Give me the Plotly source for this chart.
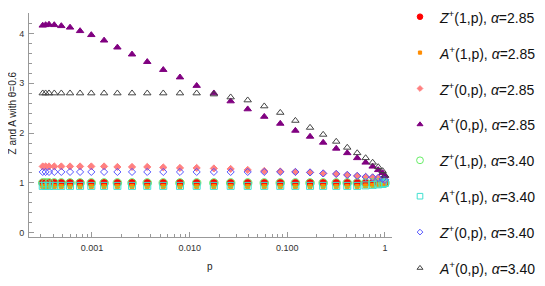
import plotly.graph_objects as go

p = [0.000313, 0.000335, 0.000363, 0.000411, 0.000485, 0.000596, 0.000755, 0.000984,
     0.00133, 0.00182, 0.00257, 0.00368, 0.00537, 0.00796, 0.0118, 0.0177, 0.0263,
     0.0393, 0.0581, 0.0847, 0.121, 0.171, 0.233, 0.317, 0.411, 0.520, 0.634, 0.748,
     0.853, 0.946, 1.0]

Z1_285 = [1.00] * 26 + [1.00, 1.00, 1.01, 1.01, 1.01]
A1_285 = [0.93] * 26 + [0.94, 0.95, 0.96, 0.98, 1.00]
Z0_285 = [1.33, 1.33, 1.33, 1.33, 1.33, 1.33, 1.33, 1.33, 1.33, 1.32, 1.32, 1.32, 1.31,
          1.30, 1.30, 1.29, 1.28, 1.26, 1.24, 1.23, 1.22, 1.21, 1.19, 1.18, 1.16, 1.14,
          1.12, 1.11, 1.10, 1.08, 1.06]
A0_285 = [4.16, 4.17, 4.18, 4.17, 4.15, 4.12, 4.05, 3.97, 3.86, 3.72, 3.58, 3.43, 3.27,
          3.12, 2.95, 2.80, 2.64, 2.48, 2.33, 2.19, 2.05, 1.93, 1.81, 1.69, 1.60, 1.50,
          1.41, 1.33, 1.26, 1.20, 1.14]
Z1_340 = [1.00] * 31
A1_340 = [0.94] * 26 + [0.95, 0.96, 0.97, 0.98, 1.00]
Z0_340 = [1.22] * 21 + [1.21, 1.19, 1.18, 1.16, 1.14, 1.12, 1.11, 1.10, 1.08, 1.06]
A0_340 = [2.80] * 15 + [2.78, 2.72, 2.66, 2.54, 2.41, 2.25, 2.11, 1.97, 1.83, 1.71,
                        1.60, 1.50, 1.41, 1.32, 1.24, 1.15]

names = [
    "<i>Z</i><sup>+</sup>(1,p), <i>α</i>=2.85",
    "<i>A</i><sup>+</sup>(1,p), <i>α</i>=2.85",
    "<i>Z</i><sup>+</sup>(0,p), <i>α</i>=2.85",
    "<i>A</i><sup>+</sup>(0,p), <i>α</i>=2.85",
    "<i>Z</i><sup>+</sup>(1,p), <i>α</i>=3.40",
    "<i>A</i><sup>+</sup>(1,p), <i>α</i>=3.40",
    "<i>Z</i><sup>+</sup>(0,p), <i>α</i>=3.40",
    "<i>A</i><sup>+</sup>(0,p), <i>α</i>=3.40",
]
series = [Z1_285, A1_285, Z0_285, A0_285, Z1_340, A1_340, Z0_340, A0_340]
symbols = ["circle", "square", "diamond", "triangle-up",
           "circle-open", "square-open", "diamond-open", "triangle-up-open"]
colors = ["#FF0000", "#FF8C00", "#FF8080", "#800080",
          "#66EE66", "#40E0D0", "#5555FF", "#444444"]
sizes = [7, 4, 5.5, 6.5, 8.5, 7, 5.5, 6.5]

# page body has an 8px margin: the figure is laid out in page pixels minus OFF
OFF = 8
W, H = 545 - OFF, 286 - OFF
ML = 29 - OFF
PLOT_R, PLOT_T, PLOT_B = 392 - OFF, 13 - OFF, 237 - OFF
LEG_L = 400 - OFF
LEG_Y0, LEG_DY = 16.7 - OFF, 35.9

fig = go.Figure()
for nm, ys, sym, col, sz in zip(names, series, symbols, colors, sizes):
    fig.add_trace(go.Scatter(x=p, y=ys, mode="markers", name=nm, showlegend=False,
                             marker=dict(symbol=sym, color=col, size=sz,
                                         line=dict(width=1, color=col))))

# manual legend on its own axes (pixel-like coordinates)
for i, (nm, sym, col, sz) in enumerate(zip(names, symbols, colors, sizes)):
    yy = LEG_Y0 + LEG_DY * i
    fig.add_trace(go.Scatter(x=[420 - OFF], y=[yy], mode="markers", xaxis="x2",
                             yaxis="y2", showlegend=False, hoverinfo="skip",
                             marker=dict(symbol=sym, color=col, size=sz * 0.8,
                                         line=dict(width=1, color=col))))
    fig.add_annotation(text=nm, x=437 - OFF, y=yy, xref="x2", yref="y2", xanchor="left",
                       yanchor="middle", showarrow=False,
                       font=dict(family="Liberation Sans", size=14, color="#111111"))

pw = W - ML
axis_common = dict(showline=True, linecolor="#999999", linewidth=1, showgrid=False,
                   zeroline=False, ticks="inside", tickcolor="#999999",
                   tickfont=dict(family="Liberation Sans", size=9, color="#333333"))

fig.update_layout(
    width=W, height=H,
    margin=dict(l=ML, r=0, t=0, b=0),
    paper_bgcolor="white", plot_bgcolor="white",
    font=dict(family="Liberation Sans", color="#222222"),
    showlegend=False,
    xaxis=dict(type="log", range=[-3.645, 0.072],
               domain=[0, (PLOT_R - ML) / pw],
               tickvals=[0.001, 0.01, 0.1, 1], ticktext=["0.001", "0.010", "0.100", "1"],
               ticklen=5, ticklabelstandoff=2,
               minor=dict(ticks="inside", ticklen=3, tickcolor="#999999",
                          dtick="D1", showgrid=False),
               **axis_common),
    yaxis=dict(range=[-0.086, 4.41], domain=[1 - PLOT_B / H, 1 - PLOT_T / H],
               tickvals=[0, 1, 2, 3, 4], ticklen=5, ticklabelstandoff=2,
               minor=dict(ticks="inside", ticklen=3, tickcolor="#999999", dtick=0.2,
                          showgrid=False),
               **axis_common),
    xaxis2=dict(domain=[(LEG_L - ML) / pw, 1], range=[LEG_L, W], visible=False,
                anchor="y2"),
    yaxis2=dict(domain=[0, 1], range=[H, 0], visible=False, anchor="x2"),
)
fig.add_annotation(text="p", xref="paper", yref="paper", x=(210 - OFF - ML) / pw,
                   y=1 - (266.7 - OFF) / H, yanchor="middle", showarrow=False,
                   font=dict(family="Liberation Sans", size=10, color="#222222"))
fig.add_annotation(text="Z and A with θ=0.6", xref="paper", yref="paper",
                   x=(12 - OFF - ML) / pw, y=1 - (113.5 - OFF) / H, xanchor="center",
                   yanchor="middle", textangle=-90, showarrow=False,
                   font=dict(family="Liberation Sans", size=10, color="#222222"))

fig.write_html("out.html")
